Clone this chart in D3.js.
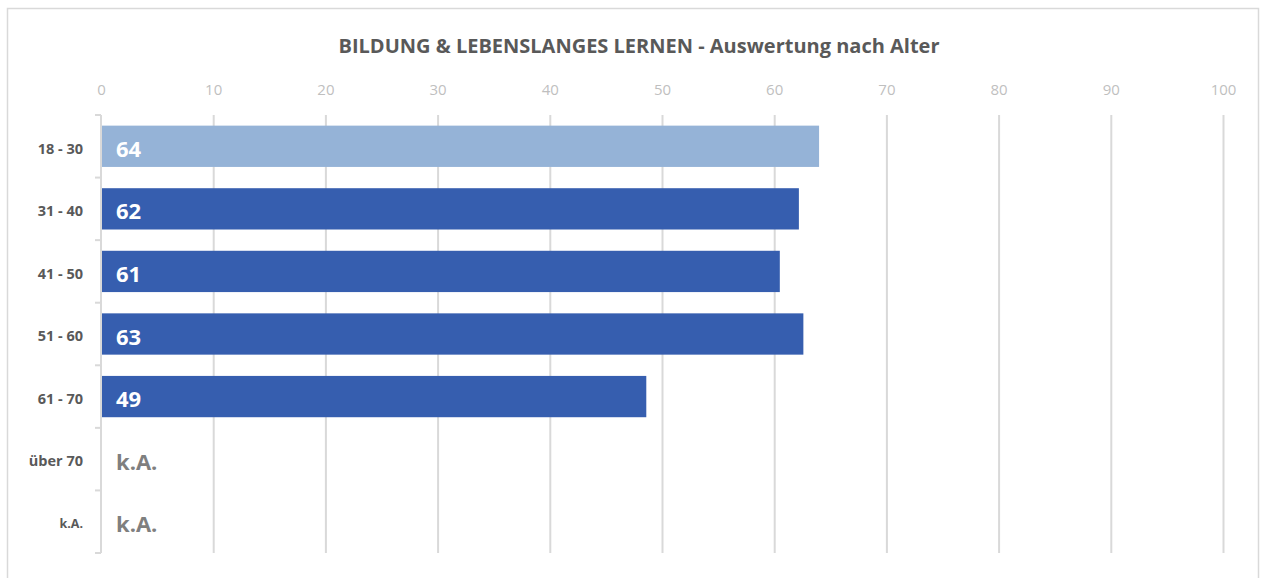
<!DOCTYPE html>
<html lang="en">
    <head>
        <meta charset="utf-8">
        <title>Bildung & lebenslanges Lernen</title>
        <script src="https://cdn.jsdelivr.net/npm/d3@7"></script>
        <style type="text/css">
            body { margin: 0; background: #fff; }
            svg text { font-family: "Open Sans", sans-serif; }
            .grid line { stroke: #d9d9d9; stroke-width: 2px; }
            .grid path { display: none; }
            .xaxis text { fill: #bfbfbf; font-size: 15px; }
            .xaxis path, .xaxis line { display: none; }
            .yaxis text { fill: #595959; font-size: 14.5px; font-weight: bold; }
            .yaxis path, .yaxis line { stroke: #d9d9d9; stroke-width: 2px; }
        </style>
    </head>
    <body>
        <script type="text/javascript">
            //Chart data
            var categories = ["18 - 30", "31 - 40", "41 - 50", "51 - 60", "61 - 70", "über 70", "k.A."];
            var values = [64, 62.2, 60.5, 62.6, 48.6, null, null];
            var valueLabels = ["64", "62", "61", "63", "49", "k.A.", "k.A."];
            var xTicks = [0, 10, 20, 30, 40, 50, 60, 70, 80, 90, 100];

            var w = 1265;
            var h = 578;
            //plot area edges
            var pLeft = 101, pRight = 1223, pTop = 115, pBottom = 553;

            var svg = d3.select("body")
                        .append("svg")
                        .attr("width", w)
                        .attr("height", h);

            //Outer frame
            svg.append("rect")
                .attr("x", 7.5).attr("y", 8.5)
                .attr("width", 1251).attr("height", 580)
                .attr("fill", "none")
                .attr("stroke", "#d9d9d9")
                .attr("stroke-width", 1.5);

            //Title
            svg.append("text")
                .attr("x", 639).attr("y", 53)
                .attr("text-anchor", "middle")
                .attr("fill", "#595959")
                .attr("font-size", "20px")
                .attr("font-weight", "bold")
                .text("BILDUNG & LEBENSLANGES LERNEN - Auswertung nach Alter");

            //Scales
            var xScale = d3.scaleLinear().domain([0, 100]).range([pLeft, pRight]);
            var yScale = d3.scaleBand().domain(categories).range([pTop, pBottom]).paddingInner(0.34).paddingOuter(0.17);

            //Gridlines
            svg.append("g")
                .attr("class", "grid")
                .attr("transform", "translate(0," + pBottom + ")")
                .call(d3.axisBottom(xScale).tickValues(xTicks.slice(1)).tickSize(-(pBottom - pTop)).tickFormat(""));

            //Top tick labels
            svg.append("g")
                .attr("class", "xaxis")
                .attr("transform", "translate(0,95)")
                .call(d3.axisTop(xScale).tickValues(xTicks).tickSize(0).tickPadding(0));

            //Category axis with boundary ticks
            var yAxisG = svg.append("g")
                .attr("class", "yaxis")
                .attr("transform", "translate(" + pLeft + ",0)")
                .call(d3.axisLeft(yScale).tickSize(0).tickPadding(18));
            yAxisG.select(".domain").remove();
            yAxisG.append("line")
                .attr("x1", 0).attr("x2", 0)
                .attr("y1", pTop).attr("y2", pBottom);
            var step = yScale.step();
            d3.range(categories.length + 1).forEach(function(i) {
                yAxisG.append("line")
                    .attr("x1", -6).attr("x2", 0)
                    .attr("y1", pTop + i * step).attr("y2", pTop + i * step);
            });
            yAxisG.selectAll(".tick text")
                .attr("dy", "0.5em")
                .filter(function(d) { return d === "k.A."; })
                .style("font-size", "12.5px");

            //Bars
            var data = categories.map(function(c, i) {
                return { cat: c, value: values[i], label: valueLabels[i] };
            });

            svg.selectAll("rect.bar")
                .data(data.filter(function(d) { return d.value !== null; }))
                .enter()
                .append("rect")
                .attr("class", "bar")
                .attr("x", xScale(0) + 1)
                .attr("y", function(d) { return yScale(d.cat); })
                .attr("width", function(d) { return xScale(d.value) - xScale(0) - 1; })
                .attr("height", yScale.bandwidth())
                .attr("fill", function(d, i) { return i === 0 ? "#95b3d7" : "#365eaf"; });

            //Value labels
            svg.selectAll("text.val")
                .data(data)
                .enter()
                .append("text")
                .attr("class", "val")
                .attr("x", xScale(0) + 15)
                .attr("y", function(d) { return yScale(d.cat) + yScale.bandwidth() / 2; })
                .attr("dy", "0.48em")
                .attr("font-size", "22px")
                .attr("font-weight", "bold")
                .attr("fill", function(d) { return d.value === null ? "#7f7f7f" : "#ffffff"; })
                .text(function(d) { return d.label; });
        </script>
    </body>
</html>
